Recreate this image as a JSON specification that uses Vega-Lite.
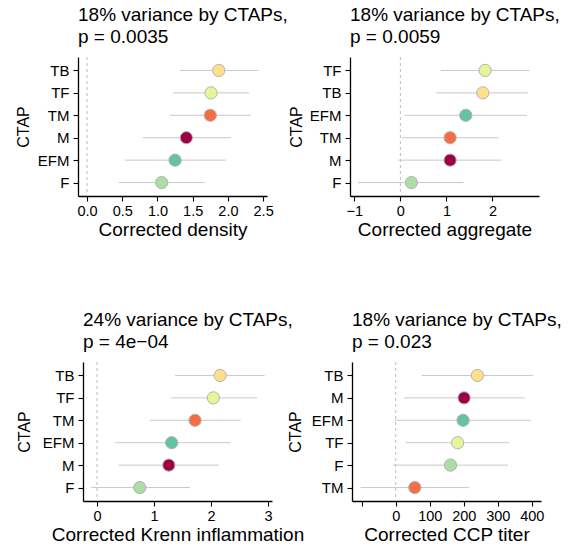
{
  "$schema": "https://vega.github.io/schema/vega-lite/v6.json",
  "padding": {"left": 15, "top": 6, "right": 0, "bottom": 0},
  "background": "white",
  "config": {
    "font": "Liberation Sans",
    "view": {"stroke": null},
    "axis": {"grid": false, "domainColor": "black", "domainWidth": 1.3, "tickColor": "black", "tickWidth": 1.1, "tickSize": 5, "labelColor": "black", "titleColor": "black", "titleFontWeight": "normal", "labelFont": "Liberation Sans", "titleFont": "Liberation Sans", "labelOverlap": false},
    "axisX": {"titleFontSize": 19, "labelFontSize": 14.5, "labelPadding": 3, "titlePadding": 3, "labelFlush": false, "tickCount": 12},
    "axisY": {"titleFontSize": 16, "labelFontSize": 15, "labelPadding": 4},
    "title": {"anchor": "start", "frame": "group", "fontSize": 19, "fontWeight": "normal", "color": "black", "lineHeight": 21.5, "offset": 10, "font": "Liberation Sans"}
  },
  "bounds": "full",
  "align": "none",
  "columns": 1,
  "spacing": 71,
  "concat": [
    {
      "bounds": "flush",
      "spacing": 83,
      "hconcat": [
        {
          "width": 189, "height": 139,
          "title": {"text": ["18% variance by CTAPs,", "p = 0.0035"]},
          "data": {"values": [
            {"ctap": "TB", "est": 1.87, "lo": 1.32, "hi": 2.43},
            {"ctap": "TF", "est": 1.76, "lo": 1.22, "hi": 2.30},
            {"ctap": "TM", "est": 1.75, "lo": 1.18, "hi": 2.32},
            {"ctap": "M", "est": 1.41, "lo": 0.79, "hi": 2.04},
            {"ctap": "EFM", "est": 1.25, "lo": 0.54, "hi": 1.97},
            {"ctap": "F", "est": 1.06, "lo": 0.45, "hi": 1.67}
          ]},
          "encoding": {
            "y": {"field": "ctap", "type": "nominal", "title": "CTAP", "scale": {"type": "point", "domain": ["TB", "TF", "TM", "M", "EFM", "F"], "padding": 0.6}, "axis": {"titlePadding": 6}}
          },
          "layer": [
            {"data": {"values": [{"zero": 0}]}, "mark": {"type": "rule", "strokeDash": [3, 3], "color": "#bdbdbd", "strokeWidth": 1}, "encoding": {"x": {"field": "zero", "type": "quantitative", "title": "Corrected density", "scale": {"domain": [-0.128, 2.555], "nice": false, "zero": false}, "axis": {"values": [0, 0.5, 1, 1.5, 2, 2.5], "format": ".1f", "tickCount": 12}}, "y": null}},
            {"mark": {"type": "rule", "color": "#c8c8c8", "strokeWidth": 1}, "encoding": {"x": {"field": "lo", "type": "quantitative"}, "x2": {"field": "hi"}}},
            {"mark": {"type": "circle", "size": 150, "stroke": "#b3b3b3", "strokeWidth": 1, "opacity": 1}, "encoding": {"x": {"field": "est", "type": "quantitative"}, "fill": {"field": "ctap", "type": "nominal", "legend": null, "scale": {"domain": ["TB", "TF", "TM", "M", "EFM", "F"], "range": ["#FEE08B", "#E6F598", "#F46D43", "#9E0142", "#66C2A5", "#ABDDA4"]}}}}
          ]
        },
        {
          "width": 189, "height": 139,
          "title": {"text": ["18% variance by CTAPs,", "p = 0.0059"]},
          "data": {"values": [
            {"ctap": "TF", "est": 1.84, "lo": 0.88, "hi": 2.80},
            {"ctap": "TB", "est": 1.79, "lo": 0.78, "hi": 2.77},
            {"ctap": "EFM", "est": 1.42, "lo": 0.09, "hi": 2.75},
            {"ctap": "TM", "est": 1.08, "lo": 0.04, "hi": 2.13},
            {"ctap": "M", "est": 1.08, "lo": -0.05, "hi": 2.19},
            {"ctap": "F", "est": 0.24, "lo": -0.92, "hi": 1.37}
          ]},
          "encoding": {
            "y": {"field": "ctap", "type": "nominal", "title": "CTAP", "scale": {"type": "point", "domain": ["TF", "TB", "EFM", "TM", "M", "F"], "padding": 0.6}, "axis": {"titlePadding": 5}}
          },
          "layer": [
            {"data": {"values": [{"zero": 0}]}, "mark": {"type": "rule", "strokeDash": [3, 3], "color": "#bdbdbd", "strokeWidth": 1}, "encoding": {"x": {"field": "zero", "type": "quantitative", "title": "Corrected aggregate", "scale": {"domain": [-1.094, 3.01], "nice": false, "zero": false}, "axis": {"values": [-1, 0, 1, 2], "format": "d", "tickCount": 12}}, "y": null}},
            {"mark": {"type": "rule", "color": "#c8c8c8", "strokeWidth": 1}, "encoding": {"x": {"field": "lo", "type": "quantitative"}, "x2": {"field": "hi"}}},
            {"mark": {"type": "circle", "size": 150, "stroke": "#b3b3b3", "strokeWidth": 1, "opacity": 1}, "encoding": {"x": {"field": "est", "type": "quantitative"}, "fill": {"field": "ctap", "type": "nominal", "legend": null, "scale": {"domain": ["TB", "TF", "TM", "M", "EFM", "F"], "range": ["#FEE08B", "#E6F598", "#F46D43", "#9E0142", "#66C2A5", "#ABDDA4"]}}}}
          ]
        }
      ]
    },
    {
      "bounds": "flush",
      "spacing": 80,
      "hconcat": [
        {
          "width": 194, "height": 139,
          "title": {"text": ["24% variance by CTAPs,", "p = 4e\u221204"], "dx": 5},
          "data": {"values": [
            {"ctap": "TB", "est": 2.16, "lo": 1.37, "hi": 2.94},
            {"ctap": "TF", "est": 2.04, "lo": 1.30, "hi": 2.81},
            {"ctap": "TM", "est": 1.72, "lo": 0.93, "hi": 2.52},
            {"ctap": "EFM", "est": 1.31, "lo": 0.32, "hi": 2.34},
            {"ctap": "M", "est": 1.26, "lo": 0.38, "hi": 2.14},
            {"ctap": "F", "est": 0.75, "lo": -0.10, "hi": 1.63}
          ]},
          "encoding": {
            "y": {"field": "ctap", "type": "nominal", "title": "CTAP", "scale": {"type": "point", "domain": ["TB", "TF", "TM", "EFM", "M", "F"], "padding": 0.6}, "axis": {"titlePadding": 10, "offset": -5}}
          },
          "layer": [
            {"data": {"values": [{"zero": 0}]}, "mark": {"type": "rule", "strokeDash": [3, 3], "color": "#bdbdbd", "strokeWidth": 1}, "encoding": {"x": {"field": "zero", "type": "quantitative", "title": "Corrected Krenn inflammation", "scale": {"domain": [-0.246, 3.07], "nice": false, "zero": false, "range": [5, 194]}, "axis": {"values": [0, 1, 2, 3], "format": "d", "tickCount": 12}}, "y": null}},
            {"mark": {"type": "rule", "color": "#c8c8c8", "strokeWidth": 1}, "encoding": {"x": {"field": "lo", "type": "quantitative"}, "x2": {"field": "hi"}}},
            {"mark": {"type": "circle", "size": 150, "stroke": "#b3b3b3", "strokeWidth": 1, "opacity": 1}, "encoding": {"x": {"field": "est", "type": "quantitative"}, "fill": {"field": "ctap", "type": "nominal", "legend": null, "scale": {"domain": ["TB", "TF", "TM", "M", "EFM", "F"], "range": ["#FEE08B", "#E6F598", "#F46D43", "#9E0142", "#66C2A5", "#ABDDA4"]}}}}
          ]
        },
        {
          "width": 189, "height": 139,
          "title": {"text": ["18% variance by CTAPs,", "p = 0.023"]},
          "data": {"values": [
            {"ctap": "TB", "est": 240, "lo": 77, "hi": 404},
            {"ctap": "M", "est": 201, "lo": 24, "hi": 379},
            {"ctap": "EFM", "est": 198, "lo": -3, "hi": 399},
            {"ctap": "TF", "est": 182, "lo": 29, "hi": 333},
            {"ctap": "F", "est": 161, "lo": -8, "hi": 330},
            {"ctap": "TM", "est": 56, "lo": -103, "hi": 215}
          ]},
          "encoding": {
            "y": {"field": "ctap", "type": "nominal", "title": "CTAP", "scale": {"type": "point", "domain": ["TB", "M", "EFM", "TF", "F", "TM"], "padding": 0.6}, "axis": {"titlePadding": 8}}
          },
          "layer": [
            {"data": {"values": [{"zero": 0}]}, "mark": {"type": "rule", "strokeDash": [3, 3], "color": "#bdbdbd", "strokeWidth": 1}, "encoding": {"x": {"field": "zero", "type": "quantitative", "title": "Corrected CCP titer", "scale": {"domain": [-128.5, 427], "nice": false, "zero": false}, "axis": {"values": [-100, 0, 100, 200, 300, 400], "format": "d", "tickCount": 12, "labelExpr": "datum.value < 0 ? '' : datum.label"}}, "y": null}},
            {"mark": {"type": "rule", "color": "#c8c8c8", "strokeWidth": 1}, "encoding": {"x": {"field": "lo", "type": "quantitative"}, "x2": {"field": "hi"}}},
            {"mark": {"type": "circle", "size": 150, "stroke": "#b3b3b3", "strokeWidth": 1, "opacity": 1}, "encoding": {"x": {"field": "est", "type": "quantitative"}, "fill": {"field": "ctap", "type": "nominal", "legend": null, "scale": {"domain": ["TB", "TF", "TM", "M", "EFM", "F"], "range": ["#FEE08B", "#E6F598", "#F46D43", "#9E0142", "#66C2A5", "#ABDDA4"]}}}}
          ]
        }
      ]
    }
  ]
}
